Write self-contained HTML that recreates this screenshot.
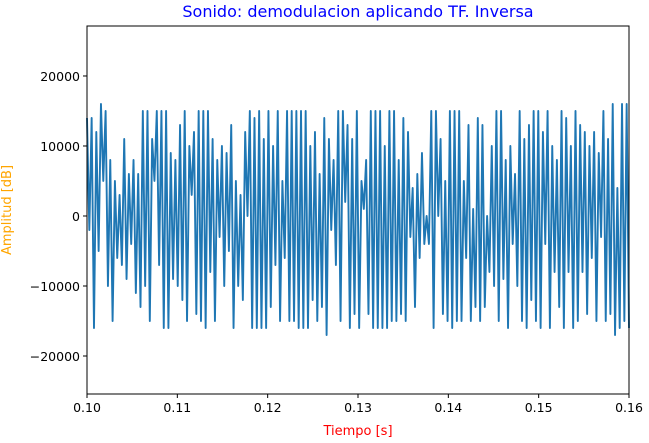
<!DOCTYPE html>
<html><head><meta charset="utf-8"><style>
body{margin:0;background:#fff;font-family:"Liberation Sans","DejaVu Sans",sans-serif}
svg text{font-family:"DejaVu Sans","Liberation Sans",sans-serif}
</style></head><body>
<svg id="chart" width="649" height="438" viewBox="0 0 649 438" xmlns="http://www.w3.org/2000/svg">
<text x="358" y="17" text-anchor="middle" font-size="16" fill="#0000ff">Sonido: demodulacion aplicando TF. Inversa</text>
<g id="plot"></g>
<rect x="87" y="26" width="542" height="368" fill="none" stroke="#000" stroke-width="1"/>
<g id="xt"></g><g id="yt"></g>
<text x="358" y="435" text-anchor="middle" font-size="13" fill="#ff0000">Tiempo [s]</text>
<text transform="translate(11,210) rotate(-90)" text-anchor="middle" font-size="13" fill="#ffa500">Amplitud [dB]</text>
</svg>
<script>
const xTicks=[0.10,0.11,0.12,0.13,0.14,0.15,0.16];
const xTickLabels=["0.10","0.11","0.12","0.13","0.14","0.15","0.16"];
const yTicks=[-20000,-10000,0,10000,20000];
const yTickLabels=["−20000","−10000","0","10000","20000"];
const tStart=0.10, tEnd=0.16;
const extremaK=[14,-2,14,-16,12,-5,16,5,15,-10,8,-15,5,-6,3,-7,11,-9,6,-4,8,-11,6,-13,15,-10,15,-15,11,5,15,-7,15,-16,15,-16,9,-9,8,-10,13,-12,15,-15,10,3,12,-14,15,-15,15,-16,15,-8,11,-15,8,-3,10,-10,9,-5,13,-16,5,-10,3,-12,12,0,15,-16,14,-16,15,-16,11,-16,15,-13,10,-7,
15,-15,5,-6,15,-15,15,-15,15,-16,15,-16,15,-16,10,-12,12,-15,6,-13,14,-17,11,-2,8,-7,15,-15,15,2,13,-16,11,-14,15,-16,5,1,8,-14,15,-16,15,-16,15,-16,10,-16,15,-15,15,-15,8,-14,14,-15,12,-3,4,-13,6,-6,9,-4,0,-4,15,-16,15,0,11,-14,5,-15,15,-16,15,-15,
15,-15,5,-6,13,-15,1,-13,14,-15,13,-13,0,-8,10,-10,15,-15,15,-9,8,-16,10,-4,6,-10,15,-15,11,-16,13,-12,15,-15,15,-16,12,-4,15,-16,10,-8,8,-13,15,-16,14,-8,10,-16,15,-15,13,-8,12,-14,10,-6,12,-15,9,-3,15,-15,11,-14,16,-17,4,-16,16,-15,16,-16];
const X0=87,X1=629,Y0=26,Y1=394,yMin=-25430,yMax=27140;
const sx=t=>X0+(t-tStart)/(tEnd-tStart)*(X1-X0);
const sy=v=>Y1-(v-yMin)/(yMax-yMin)*(Y1-Y0);
const NS="http://www.w3.org/2000/svg";
const plot=document.getElementById('plot');
let d="";const n=extremaK.length;
extremaK.forEach((v,i)=>{const t=tStart+i*(tEnd-tStart)/(n-1);d+=(i?"L":"M")+sx(t).toFixed(2)+","+sy(v*1000).toFixed(2);});
const p=document.createElementNS(NS,'path');


p.setAttribute('d',d);p.setAttribute('fill','none');p.setAttribute('stroke','#1f77b4');p.setAttribute('stroke-width','1.9');p.setAttribute('stroke-linejoin','round');
plot.appendChild(p);
const xt=document.getElementById('xt');
xTicks.forEach((t,i)=>{const x=sx(t);
const l=document.createElementNS(NS,'line');


l.setAttribute('x1',x);l.setAttribute('x2',x);l.setAttribute('y1',Y1);l.setAttribute('y2',Y1+4);l.setAttribute('stroke','#000');xt.appendChild(l);
const tx=document.createElementNS(NS,'text');


tx.setAttribute('x',x);tx.setAttribute('y',Y1+18);tx.setAttribute('text-anchor','middle');tx.setAttribute('font-size','12.5');tx.textContent=xTickLabels[i];xt.appendChild(tx);});
const yt=document.getElementById('yt');
yTicks.forEach((v,i)=>{const y=sy(v);
const l=document.createElementNS(NS,'line');


l.setAttribute('x1',X0-4);l.setAttribute('x2',X0);l.setAttribute('y1',y);l.setAttribute('y2',y);l.setAttribute('stroke','#000');yt.appendChild(l);
const tx=document.createElementNS(NS,'text');


tx.setAttribute('x',X0-7);tx.setAttribute('y',y+5);tx.setAttribute('text-anchor','end');tx.setAttribute('font-size','12.5');tx.textContent=yTickLabels[i];yt.appendChild(tx);});
</script>
</body></html>
